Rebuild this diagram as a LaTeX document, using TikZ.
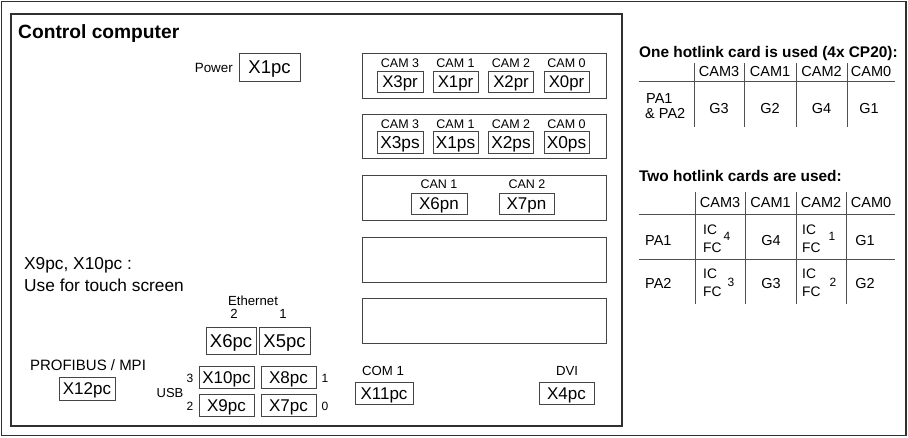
\documentclass[tikz,border=0pt]{standalone}
\usepackage{fontspec}
\setmainfont{Liberation Sans}
\newcommand\fsz[1]{\fontsize{#1}{#1}\selectfont}
\definecolor{framecol}{HTML}{303030}
\definecolor{boxline}{HTML}{454545}
\definecolor{tabline}{HTML}{505050}
\begin{document}
\begin{tikzpicture}[x=1pt,y=-1pt,
  port/.style={draw=boxline, line width=0.9pt, inner sep=0pt, text depth=0pt, text height=12.2pt, font=\fsz{17}},
  smallport/.style={port, font=\fsz{16.8}},
  bigport/.style={port, text height=13.2pt, font=\fsz{18.5}},
  card/.style={draw=boxline, line width=1pt, inner sep=0pt},
  lbl/.style={inner sep=0pt, font=\fsz{12.5}},
  note/.style={inner sep=0pt, font=\fsz{17.3}},
  num/.style={inner sep=0pt, font=\fsz{12}},
  ttl/.style={inner sep=0pt, font=\fsz{15.4}\bfseries},
  tab/.style={inner sep=0pt, font=\fsz{14.5}},
  icfc/.style={inner sep=0pt, font=\fsz{13.8}},
  tline/.style={draw=tabline, line width=0.9pt}]
\useasboundingbox (0,0) rectangle (908,437);

% frames
\node[draw=framecol, line width=1.5pt, minimum width=904.5pt, minimum height=434pt, inner sep=0pt] (outer) at (453.75,218.5) {};
\node[draw=framecol, line width=1.5pt, minimum width=611pt, minimum height=412pt, inner sep=0pt] (pc) at (316.5,220) {};
\node[anchor=base west, inner sep=0pt, font=\fsz{19.2}\bfseries] (title) at (18,38) {Control computer};

% power
\node[inner sep=0pt, font=\fsz{13.4}, anchor=east] (powerlbl) at (233,68) {Power};
\node[bigport, minimum width=61pt, minimum height=28pt] (x1pc) at (269.5,67) {X1pc};

% cards
\node[card, minimum width=244pt, minimum height=45pt] (card1) at (484,75.5) {};
\node[card, minimum width=244pt, minimum height=44pt] (card2) at (484,136) {};
\node[card, minimum width=244pt, minimum height=45pt] (card3) at (484,197.5) {};
\node[card, minimum width=244pt, minimum height=45pt] (card4) at (484,259.5) {};
\node[card, minimum width=244pt, minimum height=45pt] (card5) at (484,320.5) {};

% card 1
\node[lbl, anchor=base] (c1l3) at (400,67) {CAM 3};
\node[lbl, anchor=base] (c1l1) at (455.5,67) {CAM 1};
\node[lbl, anchor=base] (c1l2) at (511,67) {CAM 2};
\node[lbl, anchor=base] (c1l0) at (566.5,67) {CAM 0};
\node[smallport, minimum width=46pt, minimum height=21pt] (x3pr) at (400,81.5) {X3pr};
\node[smallport, minimum width=45pt, minimum height=21pt] (x1pr) at (455.5,81.5) {X1pr};
\node[smallport, minimum width=45pt, minimum height=21pt] (x2pr) at (511,81.5) {X2pr};
\node[smallport, minimum width=45pt, minimum height=21pt] (x0pr) at (566.5,81.5) {X0pr};

% card 2
\node[lbl, anchor=base] (c2l3) at (400,128.5) {CAM 3};
\node[lbl, anchor=base] (c2l1) at (455.5,128.5) {CAM 1};
\node[lbl, anchor=base] (c2l2) at (511,128.5) {CAM 2};
\node[lbl, anchor=base] (c2l0) at (566.5,128.5) {CAM 0};
\node[smallport, font=\fsz{17.3}, minimum width=46pt, minimum height=22pt] (x3ps) at (400,142) {X3ps};
\node[smallport, font=\fsz{17.3}, minimum width=45pt, minimum height=22pt] (x1ps) at (455.5,142) {X1ps};
\node[smallport, font=\fsz{17.3}, minimum width=45pt, minimum height=22pt] (x2ps) at (511,142) {X2ps};
\node[smallport, font=\fsz{17.3}, minimum width=45pt, minimum height=22pt] (x0ps) at (566.5,142) {X0ps};

% card 3
\node[lbl, anchor=base] (can1) at (439,188.5) {CAN 1};
\node[lbl, anchor=base] (can2) at (527,188.5) {CAN 2};
\node[port, minimum width=56pt, minimum height=21pt] (x6pn) at (439,203.5) {X6pn};
\node[port, minimum width=55pt, minimum height=21pt] (x7pn) at (526.5,203.5) {X7pn};

% COM / DVI
\node[inner sep=0pt, font=\fsz{13.2}, anchor=base] (com1) at (383,375) {COM 1};
\node[port, minimum width=58pt, minimum height=22pt] (x11pc) at (384,393) {X11pc};
\node[inner sep=0pt, font=\fsz{13.2}, anchor=base] (dvi) at (567,375) {DVI};
\node[port, minimum width=55pt, minimum height=22pt] (x4pc) at (566.5,393) {X4pc};

% notes
\node[note, anchor=base west] (note1) at (24,269) {X9pc, X10pc :};
\node[note, anchor=base west] (note2) at (24,291) {Use for touch screen};

% ethernet
\node[inner sep=0pt, font=\fsz{13.2}, anchor=base] (eth) at (253,305) {Ethernet};
\node[inner sep=0pt, font=\fsz{13.2}, anchor=base] (eth2) at (234,318) {2};
\node[inner sep=0pt, font=\fsz{13.2}, anchor=base] (eth1) at (283,318) {1};
\node[bigport, minimum width=50pt, minimum height=27pt] (x6pc) at (231,340.5) {X6pc};
\node[bigport, minimum width=51pt, minimum height=27pt] (x5pc) at (284.5,340.5) {X5pc};

% profibus
\node[inner sep=0pt, font=\fsz{15}, anchor=base] (profi) at (88,370) {PROFIBUS / MPI};
\node[port, minimum width=56pt, minimum height=23pt] (x12pc) at (87,388.5) {X12pc};

% USB
\node[port, minimum width=55pt, minimum height=22pt] (x10pc) at (226.5,377) {X10pc};
\node[port, minimum width=55pt, minimum height=22pt] (x8pc) at (288.5,377) {X8pc};
\node[port, minimum width=55pt, minimum height=22pt] (x9pc) at (226.5,405) {X9pc};
\node[port, minimum width=55pt, minimum height=22pt] (x7pc) at (288.5,405) {X7pc};
\node[inner sep=0pt, font=\fsz{13}, anchor=base] (usb) at (170,397) {USB};
\node[num, anchor=base] (u3) at (190,382) {3};
\node[num, anchor=base] (u2) at (190,410) {2};
\node[num, anchor=base] (u1) at (325,382) {1};
\node[num, anchor=base] (u0) at (325,410) {0};

% ---- table 1
\node[ttl, anchor=base west] (t1title) at (639,57) {One hotlink card is used (4x CP20):};
\draw[tline] (639,81) -- (895,81);
\foreach \x in {694,744,796,847} \draw[tline] (\x,63) -- (\x,127);
\node[tab, anchor=base] (h13) at (719,76) {CAM3};
\node[tab, anchor=base] (h11) at (770,76) {CAM1};
\node[tab, anchor=base] (h12) at (821.5,76) {CAM2};
\node[tab, anchor=base] (h10) at (871,76) {CAM0};
\node[tab, anchor=base west] (pa1a) at (646,103) {PA1};
\node[tab, anchor=base west] (pa1b) at (645,118) {\& PA2};
\node[tab, anchor=base] (g13) at (719,113) {G3};
\node[tab, anchor=base] (g11) at (770,113) {G2};
\node[tab, anchor=base] (g12) at (821.5,113) {G4};
\node[tab, anchor=base] (g10) at (869,113) {G1};

% ---- table 2
\node[ttl, anchor=base west] (t2title) at (639,181) {Two hotlink cards are used:};
\draw[tline] (639,214) -- (895,214);
\draw[tline] (639,259) -- (895,259);
\foreach \x in {695,745,796,846} \draw[tline] (\x,192) -- (\x,304);
\node[tab, anchor=base] (h23) at (720,207) {CAM3};
\node[tab, anchor=base] (h21) at (770.5,207) {CAM1};
\node[tab, anchor=base] (h22) at (821,207) {CAM2};
\node[tab, anchor=base] (h20) at (871,207) {CAM0};
% row PA1
\node[tab, anchor=base west] (r1) at (645,245) {PA1};
\node[icfc, anchor=base west] (r1ic) at (703,234) {IC};
\node[icfc, anchor=base west] (r1fc) at (703,252) {FC};
\node[num, anchor=base] (r1n) at (727,240) {4};
\node[tab, anchor=base] (r1g4) at (771,245) {G4};
\node[icfc, anchor=base west] (r1ic2) at (802,234) {IC};
\node[icfc, anchor=base west] (r1fc2) at (802,252) {FC};
\node[num, anchor=base] (r1n2) at (832,240) {1};
\node[tab, anchor=base] (r1g1) at (865,245) {G1};
% row PA2
\node[tab, anchor=base west] (r2) at (645,288) {PA2};
\node[icfc, anchor=base west] (r2ic) at (703,278) {IC};
\node[icfc, anchor=base west] (r2fc) at (703,296) {FC};
\node[num, anchor=base] (r2n) at (731,286) {3};
\node[tab, anchor=base] (r2g3) at (771,288) {G3};
\node[icfc, anchor=base west] (r2ic2) at (802,278) {IC};
\node[icfc, anchor=base west] (r2fc2) at (802,296) {FC};
\node[num, anchor=base] (r2n2) at (833,286) {2};
\node[tab, anchor=base] (r2g2) at (865,288) {G2};
\end{tikzpicture}
\end{document}
